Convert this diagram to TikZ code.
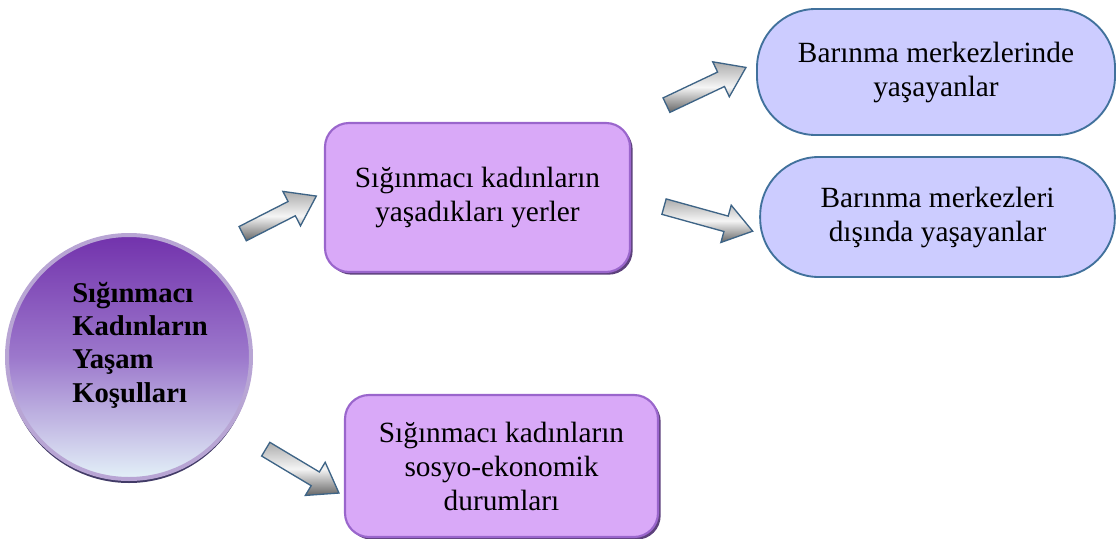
\documentclass[tikz,border=0pt]{standalone}
\usepackage{fontspec}
\setmainfont{Liberation Serif}
\usepackage{xcolor}
\usetikzlibrary{positioning, shapes.arrows, shadows}
\definecolor{boxF}{HTML}{D9A9F8}
\definecolor{boxE}{HTML}{9A66CC}
\definecolor{boxD}{HTML}{4B2C6E}
\definecolor{pillF}{HTML}{CCCCFF}
\definecolor{pillE}{HTML}{41719C}
\definecolor{circT}{HTML}{7232AC}
\definecolor{circM}{HTML}{9C78CC}
\definecolor{circB}{HTML}{E3F1F8}
\definecolor{circR}{HTML}{B8A5D4}
\definecolor{circD}{HTML}{2E2656}
\definecolor{arrE}{HTML}{3E6486}

\begin{document}
\begin{tikzpicture}[x=0.75pt, y=-0.75pt,
  txt/.style={font=\fontsize{22}{25.5}\selectfont, align=center},
  purplebox/.style={txt, draw=boxE, line width=1.6pt, fill=boxF, rounded corners=18pt,
     drop shadow={shadow xshift=2pt, shadow yshift=-2pt, fill=boxD, opacity=.9}},
  pill/.style={txt, draw=pillE, line width=1.4pt, fill=pillF, rounded corners=44pt},
  blockarr/.style={single arrow, draw=arrE, line width=1pt, minimum height=64pt,
     minimum width=0pt, single arrow head extend=8.5pt, single arrow tip angle=70,
     inner xsep=0pt, inner ysep=5.5pt, top color=gray!65, bottom color=gray!80!black,
     middle color=gray!8, sloped}]
  \useasboundingbox (0,0) rectangle (1118,539);
  % main circle
  \node[circle, minimum size=183pt, draw=circR, line width=3pt,
     top color=circT, bottom color=circB, middle color=circM,
     drop shadow={shadow xshift=0pt, shadow yshift=-3pt, fill=circD, opacity=.9}]
     (circ) at (129,357) {};
  \node[font=\fontsize{21.5}{25}\selectfont\bfseries, align=left]
     (circtxt) at (140,345) {Sığınmacı\\Kadınların\\Yaşam\\Koşulları};
  % second level
  \node[purplebox, minimum width=228.75pt, minimum height=111.75pt]
     (yer) at (477.5,197.5) {Sığınmacı kadınların\\yaşadıkları yerler};
  \node[purplebox, minimum width=234.75pt, minimum height=106.5pt]
     (sosyo) at (501.5,466) {Sığınmacı kadınların\\sosyo-ekonomik\\durumları};
  % third level
  \node[pill, minimum width=268.5pt, minimum height=94.5pt]
     (ici) at (936,72) {Barınma merkezlerinde\\yaşayanlar};
  \node[pill, minimum width=266pt, minimum height=90pt]
     (disi) at (937.5,217) {Barınma merkezleri\\dışında yaşayanlar};
  % block arrows
  \path (circ.55) -- node[blockarr, pos=0.6, minimum height=62pt] (a1) {} ([yshift=4pt]yer.west);
  \path (yer.north east) -- node[blockarr, pos=0.56, minimum height=66pt] (a2) {} ([yshift=7pt]ici.west);
  \path (yer.east) -- node[blockarr, pos=0.56, minimum height=69pt] (a3) {} ([yshift=-12pt]disi.west);
  \path (circ.-35) -- node[blockarr, pos=0.59] (a4) {} ([yshift=-22.5pt]sosyo.west);
\end{tikzpicture}
\end{document}
